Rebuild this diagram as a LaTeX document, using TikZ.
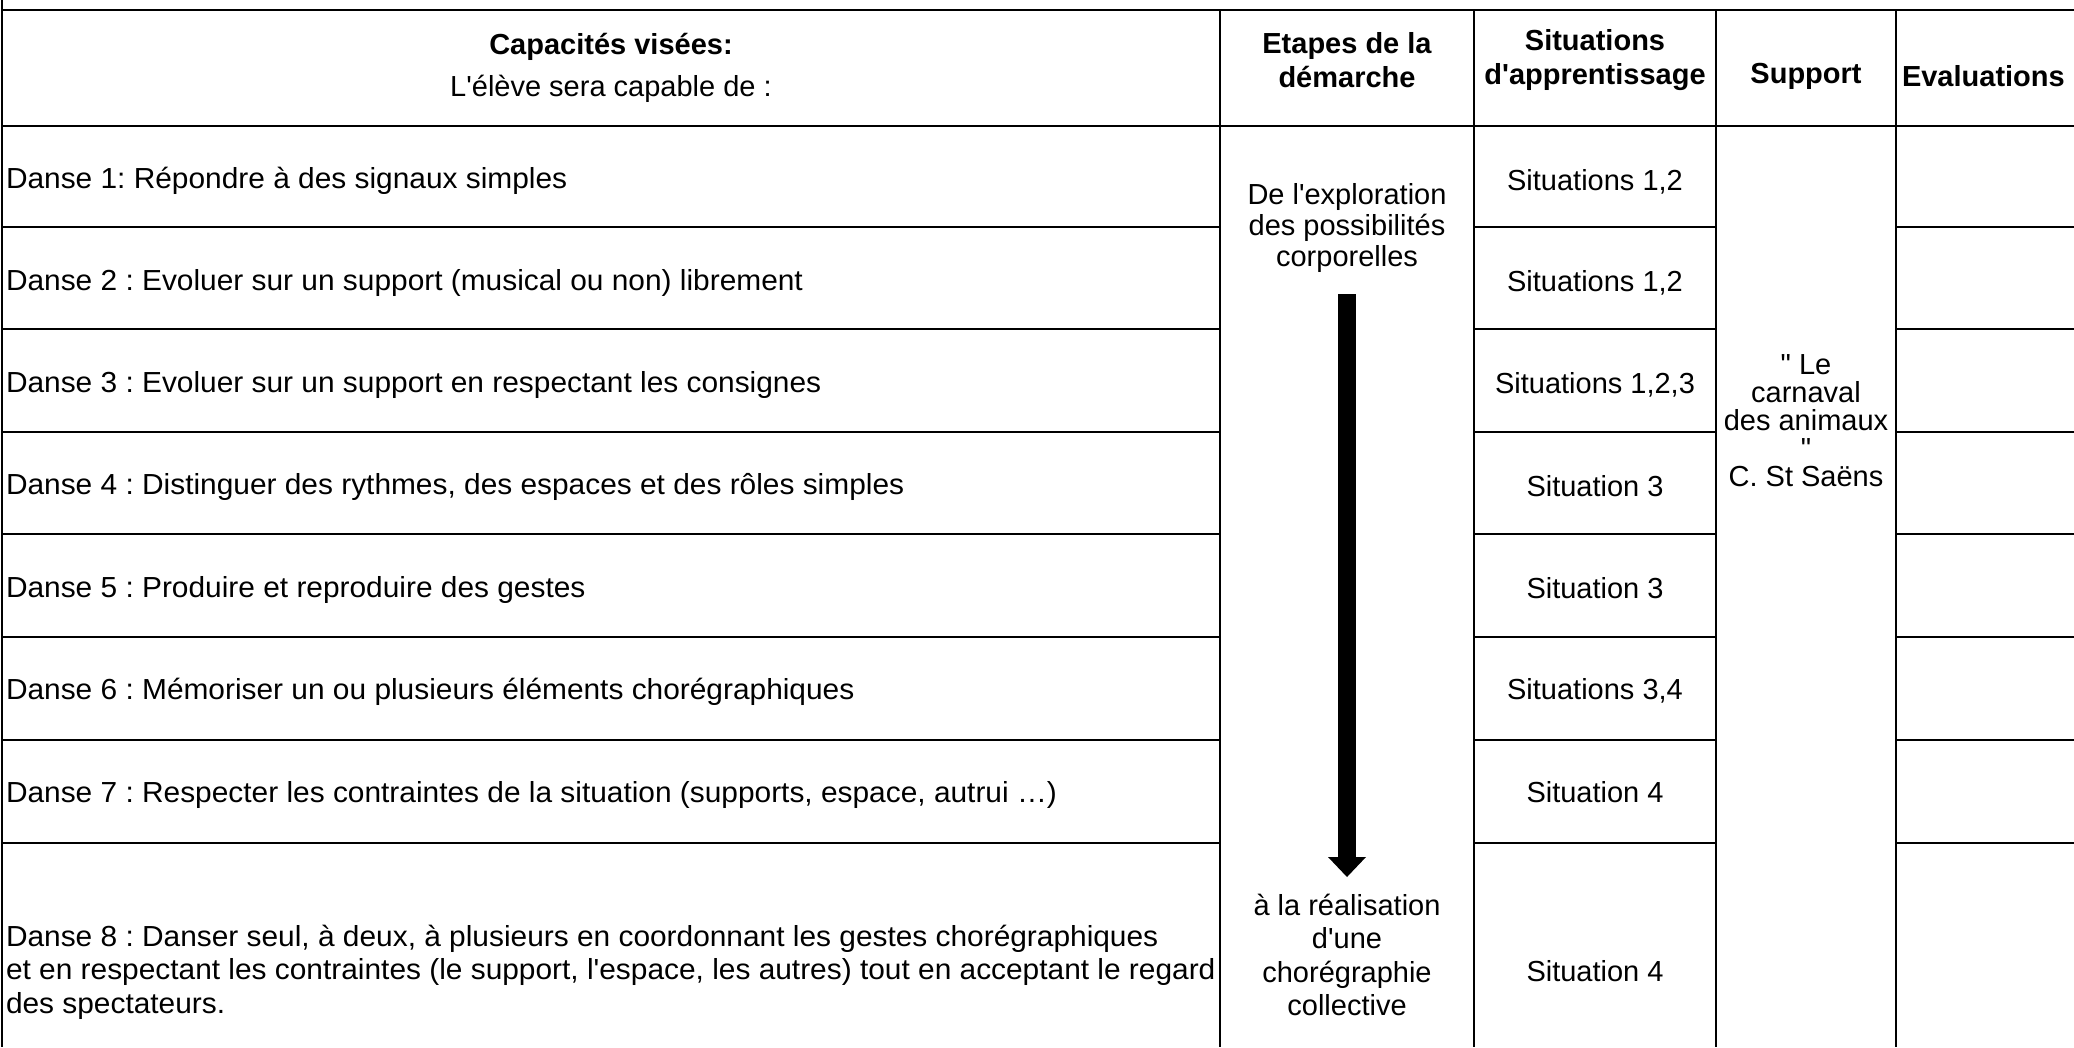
\documentclass[tikz,border=0pt]{standalone}
\usepackage{fontspec}
\setmainfont{Liberation Sans}[Ligatures=TeXOff]
\newfontfamily\widefont{Liberation Sans}[Ligatures=TeXOff,FakeStretch=1.03]
\frenchspacing
\begin{document}
\begin{tikzpicture}[x=1pt,y=-1pt,line width=2pt,
  txt/.style={inner sep=0pt,font={\fontsize{29}{33.6}\selectfont}},
  hb/.style={txt,font={\fontsize{29}{33.6}\selectfont\bfseries}},
  lft/.style={txt,anchor=west,align=left,font={\fontsize{29}{33.6}\widefont}}]
\def\xa{2};\def\xb{1220};\def\xc{1474};\def\xd{1716};\def\xe{1896};\def\xr{2074};
\def\ax{1347};%arrow axis
\useasboundingbox (0,0) rectangle (2074,1047);
% grid of the table
\draw (\xa,0) -- (\xa,1047);
\draw (\xa,10) -- (\xr,10);
\draw (\xa,126) -- (\xr,126);
\foreach\y in {227,329,432,534,637,740,843} {
  \draw (\xa,\y) -- (\xb,\y);
  \draw (\xc,\y) -- (\xd,\y);
  \draw (\xe,\y) -- (\xr,\y);
}
\foreach\x in {\xb,\xc,\xd,\xe} \draw (\x,10) -- (\x,1047);
% header
\node[hb] (capa) at (611,47) {Capacités visées:};
\node[txt] (eleve) at (611,89) {L'élève sera capable de :};
\node[hb,align=center] (etapes) at (\ax,60) {Etapes de la\\démarche};
\node[hb,align=center] (sitapp) at (1595,60) {Situations\\d'apprentissage};
\node[hb] (support) at (1806,76) {Support};
\node[hb,anchor=west] (evals) at (1901,76) {Evaluations};
% capacities
\node[lft] (d1) at (5,181) {Danse 1: Répondre à des signaux simples};
\node[lft] (d2) at (5,283) {Danse 2 : Evoluer sur un support (musical ou non) librement};
\node[lft] (d3) at (5,385) {Danse 3 : Evoluer sur un support en respectant les consignes};
\node[lft] (d4) at (5,487) {Danse 4 : Distinguer des rythmes, des espaces et des rôles simples};
\node[lft] (d5) at (5,590) {Danse 5 : Produire et reproduire des gestes};
\node[lft] (d6) at (5,692) {Danse 6 : Mémoriser un ou plusieurs éléments chorégraphiques};
\node[lft] (d7) at (5,795) {Danse 7 : Respecter les contraintes de la situation (supports, espace, autrui …)};
\node[lft] (d8) at (5,972) {Danse 8 : Danser seul, à deux, à plusieurs en coordonnant les gestes chorégraphiques\\et en respectant les contraintes (le support, l'espace, les autres) tout en acceptant le regard\\des spectateurs.};
% steps
\node[txt,align=center,font={\fontsize{29}{31}\selectfont}] (debut) at (\ax,228) {De l'exploration\\des possibilités\\corporelles};
\node[txt,align=center] (fin) at (\ax,955) {à la réalisation\\d'une\\chorégraphie\\collective};
\fill (\ax-9,294) rectangle (\ax+9,858);
\fill (\ax-19,857) -- (\ax+19,857) -- (\ax,877) -- cycle;
% situations
\node[txt] (s1) at (1595,182) {Situations 1,2};
\node[txt] (s2) at (1595,283) {Situations 1,2};
\node[txt] (s3) at (1595,385) {Situations 1,2,3};
\node[txt] (s4) at (1595,486) {Situation 3};
\node[txt] (s5) at (1595,588) {Situation 3};
\node[txt] (s6) at (1595,691) {Situations 3,4};
\node[txt] (s7) at (1595,792) {Situation 4};
\node[txt] (s8) at (1595,971) {Situation 4};
% support
\node[txt,align=center,font={\fontsize{29}{28}\selectfont}] (carnaval) at (1806,421) {" Le\\carnaval\\des animaux\\"\\C. St Saëns};
\end{tikzpicture}
\end{document}
